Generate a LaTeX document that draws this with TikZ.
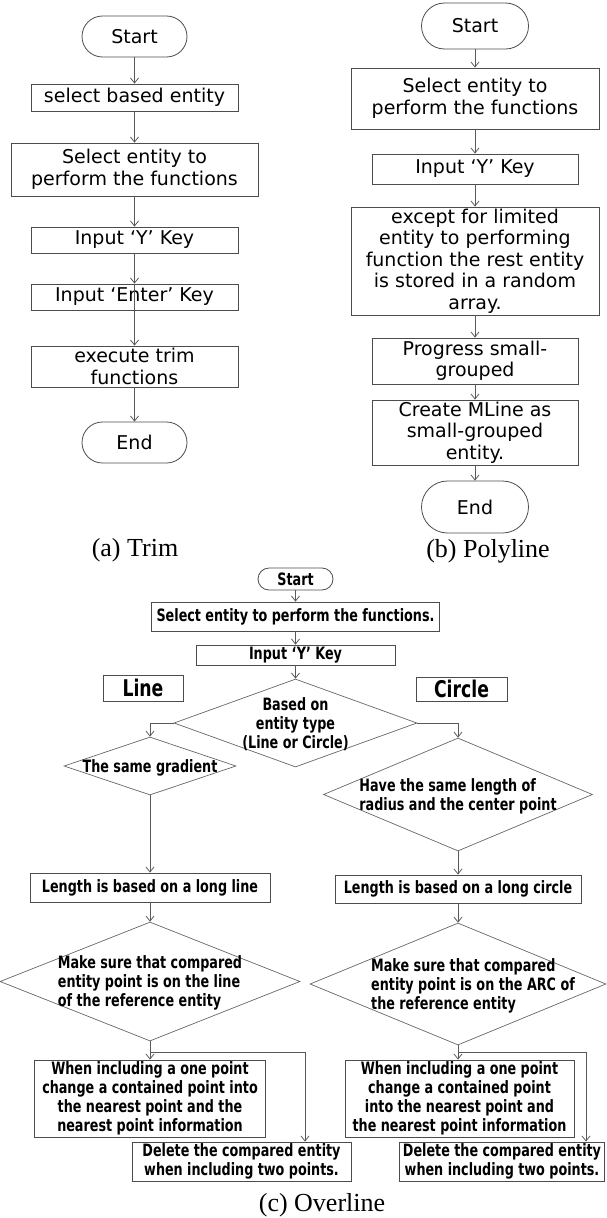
\documentclass[tikz,border=0pt]{standalone}
\usepackage{fontspec}
\setmainfont{DejaVu Sans}
\newfontfamily\boldcond[FakeStretch=0.75]{DejaVu Sans}
\newfontfamily\capfont{Liberation Serif}
\usetikzlibrary{arrows.meta,shapes.geometric,shapes.misc}

\newcommand{\dtext}[2][c]{\smash{\makebox[0pt]{\raisebox{-7pt}{\begin{tabular}{@{}#1@{}}#2\end{tabular}}}}}

\begin{document}
\begin{tikzpicture}[x=1pt, y=1pt,
    every node/.style={draw=black!70, line width=0.8pt, shape=rectangle, align=center, inner sep=0pt},
    sz/.style 2 args={minimum width=#1pt, minimum height=#2pt},
    ab/.style={font=\fontsize{19}{21.5}\selectfont},
    cc/.style={font=\boldcond\bfseries\fontsize{17}{19}\selectfont},
    term/.style={rounded rectangle},
    decision/.style={cc, shape=diamond, draw=black!60, line width=0.7pt},
    tag/.style={font=\boldcond\bfseries\fontsize{23}{24}\selectfont},
    caption/.style={draw=none, font=\capfont\fontsize{26}{30}\selectfont},
    arr/.style={draw=black!65, line width=0.8pt, -{Straight Barb[length=5pt,width=8pt]}}
    ]

    \useasboundingbox (0,0) rectangle (606,-1218);

    % (a) Trim
    \begin{scope}
    \node[ab,term,sz={105}{41}] (startA) at (134.5,-36.5) {Start};
    \node[ab,sz={207}{27}] (selA) at (134.5,-97.5) {select based entity};
    \node[ab,sz={247}{53}] (entA) at (134.5,-169.5) {Select entity to\\perform the functions};
    \node[ab,sz={207}{26}] (yA) at (134.5,-240) {Input ‘Y’ Key};
    \node[ab,sz={207}{26}] (enterA) at (134.5,-297) {Input ‘Enter’ Key};
    \node[ab,sz={207}{41}] (trimA) at (134.5,-366.5) {execute trim\\functions};
    \node[ab,term,sz={105}{41}] (endA) at (134.5,-442.5) {End};
    \node[caption] (capA) at (135,-550) {(a) Trim};

    \foreach \a/\b in {startA/selA, selA/entA, entA/yA, yA/enterA, trimA/endA}
      \draw[arr] (\a.south) -- (\b.north);
    \draw[arr] (enterA.north) -- (trimA.north);
    \end{scope}

    % (b) Polyline
    \begin{scope}
    \node[ab,term,sz={107}{46}] (startB) at (475,-26) {Start};
    \node[ab,sz={248}{61}] (entB) at (475,-98.5) {Select entity to\\perform the functions};
    \node[ab,sz={206}{30}] (yB) at (475,-169) {Input ‘Y’ Key};
    \node[ab,sz={248}{108}] (exceptB) at (475,-261) {except for limited\\entity to performing\\function the rest entity\\is stored in a random\\array.};
    \node[ab,sz={206}{46}] (progB) at (475,-361) {Progress small-\\grouped};
    \node[ab,sz={206}{65}] (mlineB) at (475,-432.5) {Create MLine as\\small-grouped\\entity.};
    \node[ab,term,sz={107}{52}] (endB) at (475,-507) {End};
    \node[caption] (capB) at (488,-551) {(b) Polyline};

    \foreach \a/\b in {startB/entB, entB/yB, yB/exceptB, exceptB/progB, progB/mlineB, mlineB/endB}
      \draw[arr] (\a.south) -- (\b.north);
    \end{scope}

    % (c) Overline
    \begin{scope}
    \node[cc,term,sz={75}{22}] (startC) at (295.5,-579) {Start};
    \node[cc,sz={288}{29}] (entC) at (295.5,-616.5) {Select entity to perform the functions.};
    \node[cc,sz={199}{20}] (yC) at (295.5,-655) {Input ‘Y’ Key};
    \node[tag,sz={80}{26}] (lineT) at (143,-688) {Line};
    \node[tag,sz={91}{24}] (circT) at (461.5,-689) {Circle};

    \node[decision,sz={243}{88}] (typeD) at (295.5,-723) {\dtext{Based on\\entity type\\(Line or Circle)}};
    \node[decision,sz={172}{58}] (gradD) at (150,-766) {\dtext{The same gradient}};
    \node[decision,sz={269}{113}] (radD) at (458,-794.5) {\dtext[l]{Have the same length of\\radius and the center point}};

    \node[cc,sz={240}{29}] (lenL) at (150,-887.5) {Length is based on a long line};
    \node[cc,sz={246}{28}] (lenC) at (458,-889) {Length is based on a long circle};

    \node[decision,sz={300}{119}] (lineD) at (150,-981.5) {\dtext[l]{Make sure that compared\\entity point is on the line\\of the reference entity}};
    \node[decision,sz={296}{122}] (arcD) at (458,-984) {\hspace*{30pt}\dtext[l]{Make sure that compared\\entity point is on the ARC of\\the reference entity}};

    \node[cc,sz={231}{77}] (oneL) at (150,-1098.5) {When including a one point\\change a contained point into\\the nearest point and the\\nearest point information};
    \node[cc,sz={229}{77}] (oneC) at (459.5,-1098.5) {When including a one point\\change a contained point\\into the nearest point and\\the nearest point information};
    \node[cc,sz={219}{39}] (twoL) at (241.5,-1161.5) {Delete the compared entity\\when including two points.};
    \node[cc,sz={205}{39}] (twoC) at (502,-1161.5) {Delete the compared entity\\when including two points.};
    \node[caption] (capC) at (322,-1205) {(c) Overline};

    \foreach \a/\b in {startC/entC, entC/yC, yC/typeD, gradD/lenL, radD/lenC, lenL/lineD, lenC/arcD, lineD/oneL}
      \draw[arr] (\a.south) -- (\b.north);
    \draw[arr] (arcD.south) -- (arcD.south |- oneC.north);
    \draw[arr] (typeD.west) -| (gradD.north);
    \draw[arr] (typeD.east) -| (radD.north);
    \draw[arr] (lineD.south) -- ++(0,-11) -| ([xshift=63.5pt]twoL.north);
    \draw[arr] (arcD.south) -- ++(0,-7) -| ([xshift=84pt]twoC.north);
    \end{scope}

\end{tikzpicture}
\end{document}
